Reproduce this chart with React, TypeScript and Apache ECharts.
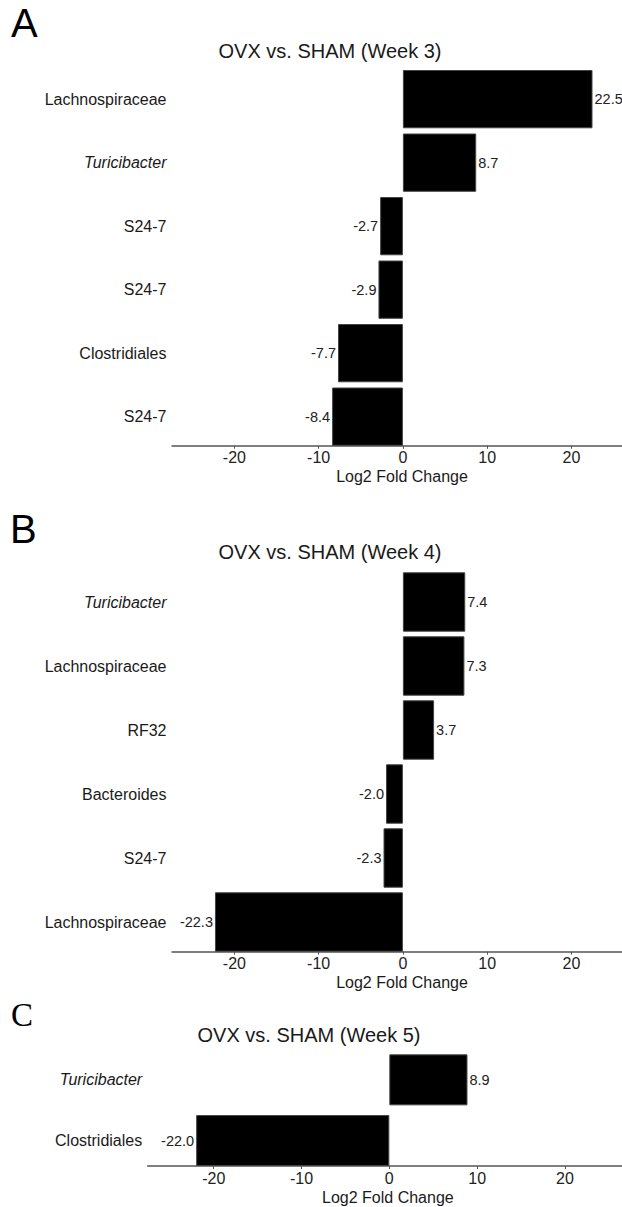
import React, { useEffect, useRef } from "react";
import * as echarts from "echarts";

const catsA = ["Lachnospiraceae", "Turicibacter", "S24-7", "S24-7", "Clostridiales", "S24-7"];
const valsA = [22.5, 8.7, -2.7, -2.9, -7.7, -8.4];
const catsB = ["Turicibacter", "Lachnospiraceae", "RF32", "Bacteroides", "S24-7", "Lachnospiraceae"];
const valsB = [7.4, 7.3, 3.7, -2.0, -2.3, -22.3];
const catsC = ["Turicibacter", "Clostridiales"];
const valsC = [8.9, -22.0];
const tickValues = [-20, -10, 0, 10, 20];
const titles = ["OVX vs. SHAM (Week 3)", "OVX vs. SHAM (Week 4)", "OVX vs. SHAM (Week 5)"];
const panelLetters = ["A", "B", "C"];
const axisName = "Log2 Fold Change";
const italicNames = ["Turicibacter"];

const SANS = "'Liberation Sans', Arial, Helvetica, sans-serif";

export default function App() {
  const ref = useRef<HTMLDivElement>(null);
  useEffect(() => {
    if (!ref.current) return;
    const chart = echarts.init(ref.current, undefined, { renderer: "svg" });

    const panels = [
      { cats: catsA, vals: valsA, top: 67.4, height: 381, left: 172, min: -27.4, max: 26.0, gap: "8.2%", off: -2.6, namePad: 10 },
      { cats: catsB, vals: valsB, top: 570, height: 384, left: 172, min: -27.4, max: 26.0, gap: "7.2%", off: -2.3, namePad: 10 },
      { cats: catsC, vals: valsC, top: 1049.5, height: 121.4, left: 147.7, min: -27.52, max: 26.5, gap: "16%", off: -4.85, namePad: 6 },
    ];

    const grid = panels.map((p) => ({ left: p.left, right: 0, top: p.top, height: p.height, containLabel: false }));
    const xAxis = panels.map((p, i) => ({
      type: "value",
      gridIndex: i,
      min: p.min,
      max: p.max,
      offset: p.off,
      name: axisName,
      nameLocation: "middle",
      nameGap: 23,
      nameTextStyle: { fontFamily: SANS, fontSize: 16, color: "#1a1a1a", padding: [0, 0, 0, p.namePad] },
      axisLine: { show: true, lineStyle: { color: "#555", width: 1.5 } },
      axisTick: { show: true, length: 3, customValues: tickValues, lineStyle: { color: "#555" } },
      axisLabel: { customValues: tickValues, margin: 4, fontFamily: SANS, fontSize: 16, color: "#222" },
      splitLine: { show: false },
    }));
    const yAxis = panels.map((p, i) => ({
      type: "category",
      gridIndex: i,
      inverse: true,
      data: p.cats.map((_, k) => String(k)),
      axisLine: { show: false },
      axisTick: { show: false },
      axisLabel: {
        margin: 5.5,
        fontFamily: SANS,
        fontSize: 16,
        color: "#1a1a1a",
        formatter: (_v: string, k: number) => {
          const n = p.cats[k];
          return italicNames.includes(n) ? `{i|${n}}` : `{n|${n}}`;
        },
        rich: {
          i: { fontStyle: "italic", fontFamily: SANS, fontSize: 16, color: "#1a1a1a" },
          n: { fontFamily: SANS, fontSize: 16, color: "#1a1a1a" },
        },
      },
      splitLine: { show: false },
    }));
    const series = panels.map((p, i) => ({
      type: "bar",
      xAxisIndex: i,
      yAxisIndex: i,
      barCategoryGap: p.gap,
      itemStyle: { color: "#000", borderColor: "#444", borderWidth: 1 },
      label: {
        show: true,
        distance: 2,
        fontFamily: SANS,
        fontSize: 14.5,
        color: "#222",
        formatter: (d: any) => Number(d.value).toFixed(1),
      },
      data: p.vals.map((v) => ({ value: v, label: { position: v < 0 ? "left" : "right" } })),
    }));

    const titlePos = [
      { x: 330, y: 51 },
      { x: 330, y: 552 },
      { x: 309, y: 1034.5 },
    ];
    const letterPos = [
      { x: 11, y: 23, font: SANS, size: 40 },
      { x: 10, y: 529, font: SANS, size: 40 },
      { x: 11, y: 1014.5, font: "'Liberation Serif', 'Times New Roman', serif", size: 33 },
    ];
    const graphic: any[] = [];
    titles.forEach((t, i) => {
      graphic.push({
        type: "text",
        x: titlePos[i].x,
        y: titlePos[i].y,
        style: { text: t, fontFamily: SANS, fontSize: 20, fill: "#1a1a1a", align: "center", verticalAlign: "middle" },
      });
    });
    panelLetters.forEach((t, i) => {
      graphic.push({
        type: "text",
        x: letterPos[i].x,
        y: letterPos[i].y,
        style: { text: t, fontFamily: letterPos[i].font, fontSize: letterPos[i].size, fill: "#000", align: "left", verticalAlign: "middle" },
      });
    });

    chart.setOption({
      animation: false,
      backgroundColor: "#fff",
      grid,
      xAxis,
      yAxis,
      series,
      graphic,
    } as any);
    return () => chart.dispose();
  }, []);
  return <div ref={ref} style={{ position: "absolute", left: 0, top: 0, width: 622, height: 1207 }} />;
}
